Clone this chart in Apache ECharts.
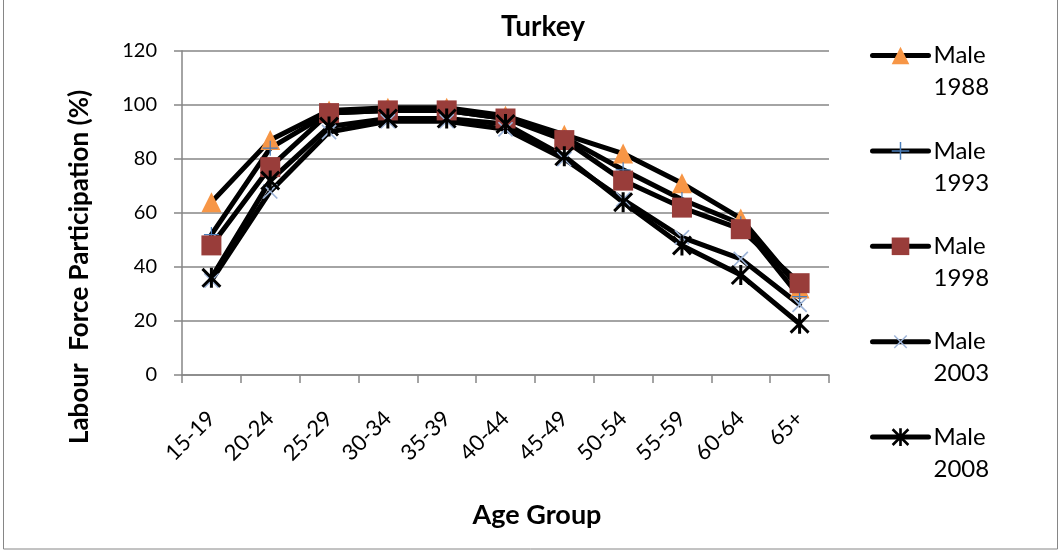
<!DOCTYPE html>
<html>
<head>
<meta charset="utf-8">
<script src="https://cdn.jsdelivr.net/npm/echarts@6/dist/echarts.min.js"></script>
<style>
  html, body { margin: 0; padding: 0; background: #fff; }
  #chart { width: 1061px; height: 553px; }
</style>
</head>
<body>
<div id="chart"></div>
<script>
// Male labour force participation in Turkey by age group (%)
const ageGroups = ['15-19', '20-24', '25-29', '30-34', '35-39', '40-44', '45-49', '50-54', '55-59', '60-64', '65+'];
const male1988 = [64, 87, 98, 99, 99, 96, 89, 82, 71, 58, 32];
const male1993 = [52, 84, 97, 98, 98, 95, 88, 76, 65, 56, 29];
const male1998 = [48, 77, 97, 98, 98, 95, 87, 72, 62, 54, 34];
const male2003 = [35, 68, 90, 94, 94, 91, 80, 65, 51, 43, 26];
const male2008 = [36, 72, 92, 95, 95, 93, 81, 64, 48, 37, 19];
const yTicks = { min: 0, max: 120, step: 20 };

const FONT = 'Lato, "Open Sans", sans-serif';
const AXIS_GREY = '#868686';

// marker shapes
const PLUS = 'path://M11,0h2v11h11v2h-11v11h-2v-11h-11v-2h11z';
const STAR = 'path://M10.2,0h3.6v24h-3.6z M0,2.5L2.5,0L24,21.5L21.5,24z M21.5,0L24,2.5L2.5,24L0,21.5z';

const seriesDefs = [
  { name: 'Male 1988', data: male1988, symbol: 'triangle', size: 20, color: '#F79646', rotate: 0 },
  { name: 'Male 1993', data: male1993, symbol: PLUS, size: 15, color: '#4A7EBB', rotate: 0 },
  { name: 'Male 1998', data: male1998, symbol: 'rect', size: 20, color: '#993D3A', rotate: 0 },
  { name: 'Male 2003', data: male2003, symbol: PLUS, size: 20, color: '#9DB4D8', rotate: 45 },
  { name: 'Male 2008', data: male2008, symbol: STAR, size: 20, color: '#000000', rotate: 0 }
];

const chart = echarts.init(document.getElementById('chart'), null, { renderer: 'canvas' });

chart.setOption({
  animation: false,
  backgroundColor: '#fff',
  textStyle: { fontFamily: FONT },
  title: [
    {
      text: 'Turkey',
      left: 538, top: 8, textAlign: 'center',
      textStyle: { fontFamily: FONT, fontSize: 28, fontWeight: 'bold', color: '#000' }
    },
    {
      text: 'Age Group',
      left: 532, top: 497, textAlign: 'center',
      textStyle: { fontFamily: FONT, fontSize: 27, fontWeight: 'bold', color: '#000' }
    }
  ],
  graphic: [
    {
      type: 'rect', silent: true, z: -10,
      shape: { x: 3.5, y: -1, width: 1054, height: 550 },
      style: { fill: 'none', stroke: AXIS_GREY, lineWidth: 1 }
    },
    {
      type: 'text', silent: true,
      x: 80, y: 267, rotation: Math.PI / 2,
      style: {
        text: 'Labour  Force Participation (%)',
        font: 'bold 26px ' + FONT,
        fill: '#000', align: 'center', verticalAlign: 'middle'
      }
    }
  ],
  legend: {
    orient: 'vertical',
    left: 870, top: 7.5,
    padding: 0,
    itemGap: -0.6,
    itemWidth: 56,
    itemHeight: 22,
    // blank first line keeps the "Male" line level with the icon
    formatter: name => ' \n' + name.replace(' ', '\n'),
    lineStyle: { width: 5, color: '#000', cap: 'round' },
    textStyle: {
      fontFamily: FONT, fontSize: 24, color: '#000', lineHeight: 32
    },
    data: seriesDefs.map(s => s.name)
  },
  grid: { left: 182, right: 232, top: 51, bottom: 178, containLabel: false },
  xAxis: {
    type: 'category',
    data: ageGroups,
    boundaryGap: true,
    axisLine: { lineStyle: { color: AXIS_GREY, width: 1.5 } },
    axisTick: { show: true, length: 8, lineStyle: { color: AXIS_GREY, width: 1.5 } },
    axisLabel: { rotate: 45, fontSize: 22, color: '#000', fontFamily: FONT, margin: 40, interval: 0 },
    splitLine: { show: false }
  },
  yAxis: {
    type: 'value',
    min: yTicks.min, max: yTicks.max, interval: yTicks.step,
    axisLine: { show: true, lineStyle: { color: AXIS_GREY, width: 1.5 } },
    axisTick: { show: true, length: 8, lineStyle: { color: AXIS_GREY, width: 1.5 } },
    axisLabel: { fontSize: 20, color: '#000', fontFamily: FONT, margin: 25 },
    splitLine: { show: true, lineStyle: { color: AXIS_GREY, width: 1.5 } }
  },
  series: seriesDefs.map(s => ({
    name: s.name,
    type: 'line',
    data: s.data,
    symbol: s.symbol,
    symbolSize: s.size,
    symbolRotate: s.rotate,
    showAllSymbol: true,
    lineStyle: { color: '#000', width: 5, join: 'round', cap: 'round' },
    itemStyle: { color: s.color, borderWidth: 0 },
    emphasis: { disabled: true }
  }))
});
</script>
</body>
</html>
